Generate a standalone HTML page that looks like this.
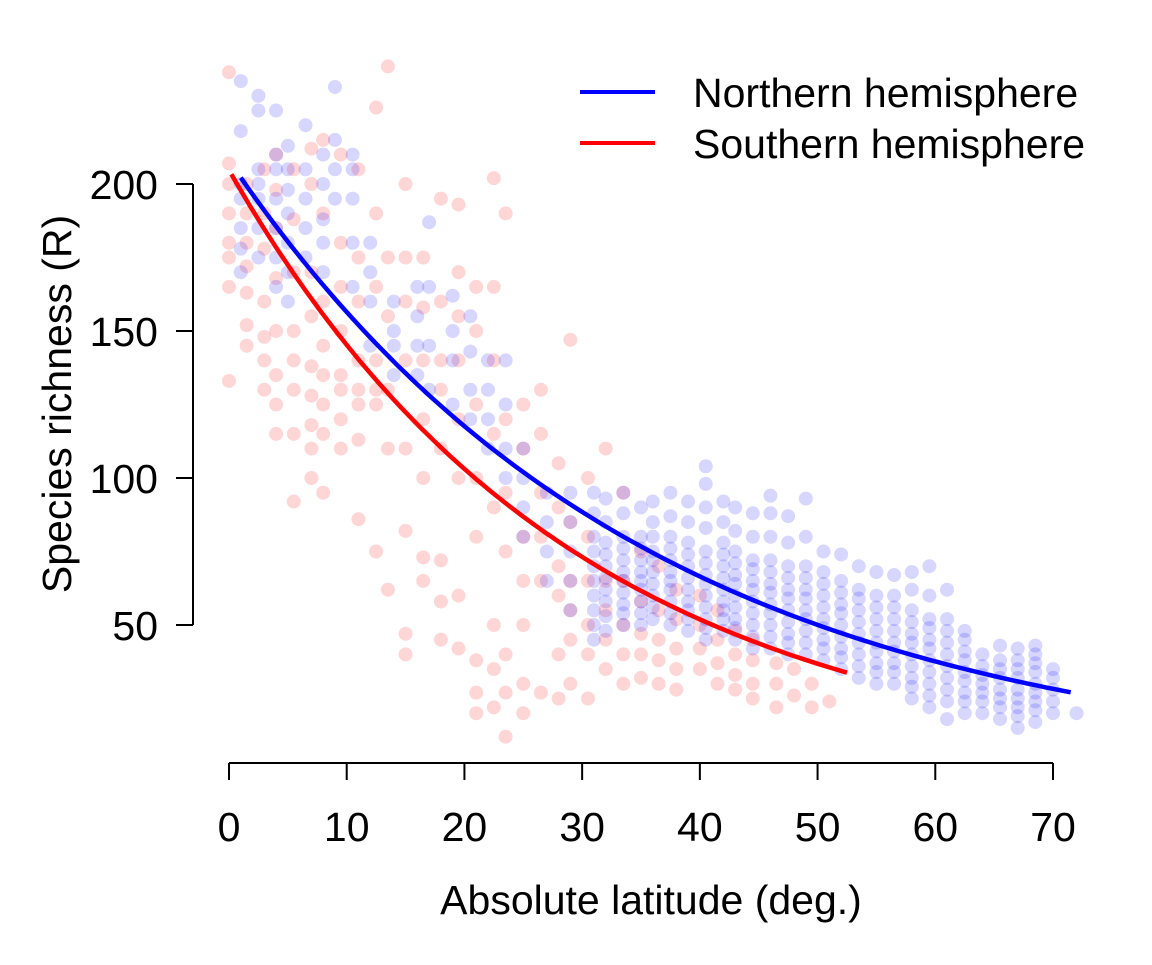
<!DOCTYPE html>
<html><head><meta charset="utf-8"><style>
body{margin:0;background:#fff}
svg text{font-family:"Liberation Sans",Arial,sans-serif;fill:#000}
</style></head><body>
<svg id="chart" width="1152" height="960" viewBox="0 0 1152 960">
<g id="pts"></g>
<g id="curves"></g>
<g stroke="#000" stroke-width="2" id="yaxis"></g>
<g stroke="#000" stroke-width="2" id="xaxis"></g>
<text x="60" y="404" font-size="41" text-anchor="middle" dominant-baseline="middle" transform="rotate(-90 60 404)">Species richness (R)</text>
<text x="651" y="914" font-size="41" text-anchor="middle">Absolute latitude (deg.)</text>
<g>
<line x1="580" y1="92" x2="655" y2="92" stroke="#00f" stroke-width="4"/>
<text x="693" y="107" font-size="41">Northern hemisphere</text>
<line x1="580" y1="143" x2="655" y2="143" stroke="#f00" stroke-width="4"/>
<text x="693" y="158" font-size="41">Southern hemisphere</text>
</g>
</svg>
<script>
const xTicks=[0,10,20,30,40,50,60,70];
const yTicks=[50,100,150,200];
const northLat=[1,2.5,4,5,6.5,8,9,10.5,12,14,16,17,19,20.5,22,23.5,25,27,29,31,32,33.5,35,36,37.5,39,40.5,42,43,44.5,46,47.5,49,50.5,52,53.5,55,56.5,58,59.5,61,62.5,64,65.5,67,68.5,70,72];
const northR=[[170,178,185,195,200,218,235],[175,185,195,200,205,225,230],[165,175,185,195,205,210,225],[160,170,180,190,198,205,213],[175,185,195,205,220],[170,180,188,200,210],[195,205,215,233],[165,180,195,205,210],[145,160,170,180],[135,145,150,160],[135,145,155,165],[130,145,165,187],[125,140,150,162],[120,130,143,155],[110,120,130,140],[100,110,125,140],[80,90,100,110],[65,75,85,95],[55,65,75,85,95],[45,50,55,60,65,70,75,80,88,95],[48,53,58,62,66,70,74,78,85,93],[50,54,57,61,65,68,72,76,80,88,95],[50,54,58,62,65,68,72,76,80,90],[52,56,60,64,68,72,75,80,85,92],[50,54,58,62,65,68,72,76,80,87,95],[48,52,55,58,62,66,70,74,78,85,92],[45,49,52,56,60,64,67,71,75,83,90,98,104],[48,52,55,58,62,66,70,74,78,85,92],[45,49,52,56,60,64,67,71,75,82,90],[42,46,50,54,58,62,65,69,72,80,88],[42,46,50,54,57,61,64,68,72,80,88,94],[40,44,47,51,55,59,62,66,70,78,87],[40,44,48,52,55,59,62,66,70,80,93],[38,42,45,49,52,56,60,64,68,75],[35,39,42,46,50,54,57,61,65,74],[32,36,40,44,47,51,55,59,62,70],[30,34,37,41,44,48,52,56,60,68],[30,34,37,41,44,48,52,56,60,67],[25,29,32,36,40,44,47,51,55,62,68],[22,26,30,34,38,42,45,49,52,60,70],[18,24,28,32,36,40,44,48,52,62],[20,24,27,31,34,38,41,45,48],[20,24,27,30,33,36,40],[18,22,25,28,32,35,38,43],[15,19,22,25,28,32,35,38,42],[17,21,24,27,30,34,37,40,43],[20,24,28,32,35],[20]];
const southLat=[0,1.5,3,4,5.5,7,8,9.5,11,12.5,13.5,15,16.5,18,19.5,21,22.5,23.5,25,26.5,28,29,30.5,32,33.5,35,36.5,38,40,41.5,43,44.5,46.5,48,49.5,51];
const southR=[[133,165,175,180,190,200,207,238],[145,152,163,172,180,190,200],[130,140,148,160,178,190,205],[115,125,135,150,168,185,198,210],[92,115,130,140,150,170,188,205],[100,110,118,128,138,155,170,200,212],[95,115,125,135,145,160,190,215],[110,120,130,135,150,165,180,210],[86,113,125,130,140,160,175,205],[75,125,130,140,165,190,226],[62,110,130,155,175,240],[40,47,82,110,140,160,175,200],[65,73,100,120,140,158,175],[45,58,72,110,130,140,160,195],[42,60,100,120,140,155,170,193],[20,27,38,80,100,125,150,165],[22,35,50,90,115,140,165,202],[12,27,40,75,95,120,190],[20,30,50,65,80,110,125],[27,65,80,95,115,130],[25,40,60,70,90,105],[30,45,55,65,85,147],[25,40,50,65,80,100],[35,45,55,65,110],[30,40,50,65,95],[32,40,47,58,75],[30,38,45,55,70],[28,35,42,52,62],[35,42,50,60],[30,37,45,55],[28,33,40,48],[25,30,38,45],[22,30,37],[26,35],[22,30],[24]];
const northFit=[208,0.0285,1,71.5];
const southFit=[204.7,0.0343,0.2,52.5];
const X=v=>229+v*(1053-229)/70;
const Y=v=>184+(200-v)*(625-184)/150;
const NS='http://www.w3.org/2000/svg';
function mk(t,a,p){const e=document.createElementNS(NS,t);for(const k in a)e.setAttribute(k,a[k]);p.appendChild(e);return e;}
const pts=document.getElementById('pts');
function drawPts(lats,rs,col,nm){lats.forEach((la,i)=>rs[i].forEach(r=>{const c=mk('circle',{cx:X(la),cy:Y(r),r:7,fill:col},pts);

}));}
drawPts(southLat,southR,'rgba(255,0,0,0.16)','south-point');
drawPts(northLat,northR,'rgba(0,0,255,0.16)','north-point');
const cg=document.getElementById('curves');
function curve(f,col,nm){let d='';for(let i=0;i<=100;i++){const la=f[2]+(f[3]-f[2])*i/100;d+=(i?'L':'M')+X(la).toFixed(1)+','+Y(f[0]*Math.exp(-f[1]*la)).toFixed(1);}
const p=mk('path',{d:d,fill:'none',stroke:col,'stroke-width':4.5},cg);

}
curve(northFit,'#00f','north-curve');
curve(southFit,'#f00','south-curve');
const ya=document.getElementById('yaxis');
mk('line',{x1:193,y1:Y(200),x2:193,y2:Y(50)},ya);
yTicks.forEach(v=>{mk('line',{x1:176,y1:Y(v),x2:193,y2:Y(v)},ya);
const t=mk('text',{x:158,y:Y(v)+15,'font-size':41,'text-anchor':'end',stroke:'none'},ya);t.textContent=v;

});
const xa=document.getElementById('xaxis');
mk('line',{x1:X(0),y1:763,x2:X(70),y2:763},xa);
xTicks.forEach(v=>{mk('line',{x1:X(v),y1:763,x2:X(v),y2:780},xa);
const t=mk('text',{x:X(v),y:841,'font-size':41,'text-anchor':'middle',stroke:'none'},xa);t.textContent=v;

});
</script>
</body></html>
